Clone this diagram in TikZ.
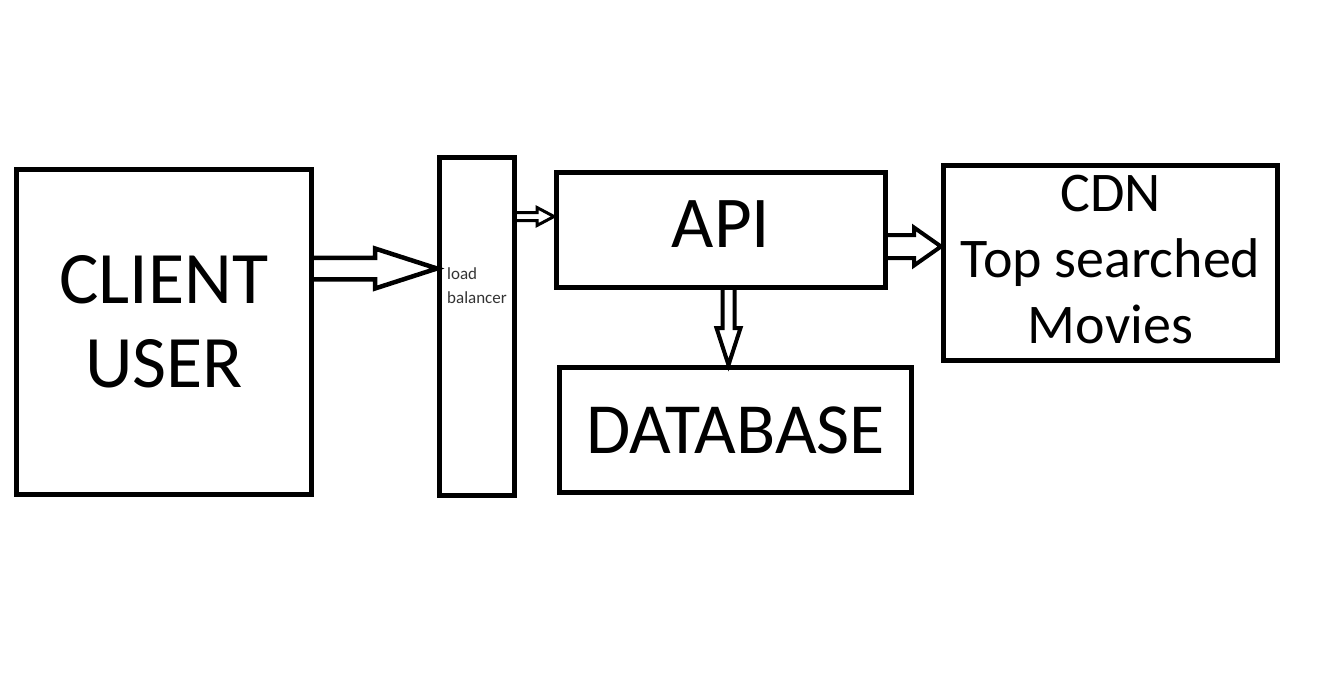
\documentclass[tikz,border=0pt]{standalone}
\usepackage{fontspec}
\setmainfont{Carlito}
\usetikzlibrary{calc}
% hollow block arrow: line width, from, to, shaft half width, head half width, head length
\newcommand{\hollowarrow}[6]{%
\coordinate (hb) at ($(#3)!#6!(#2)$);
\draw[line width=#1] ($(#2)!#4!90:(#3)$) -- ($(hb)!#4!90:(#3)$) -- ($(hb)!#5!90:(#3)$) -- (#3)
  -- ($(hb)!#5!-90:(#3)$) -- ($(hb)!#4!-90:(#3)$) -- ($(#2)!#4!-90:(#3)$);
}
\begin{document}
\begin{tikzpicture}[x=1pt, y=-1pt,
  box/.style={draw, line width=5pt, inner sep=0pt, align=center}]
\useasboundingbox (0,0) rectangle (1317,682);
\node[box, minimum width=295pt, minimum height=325pt, font=\fontsize{74}{84}\selectfont, text depth=22pt] (client) at (164,332){CLIENT\\USER};
\node[box, minimum width=75pt, minimum height=338pt, align=left, text=black!80, font=\fontsize{17}{24}\selectfont, text depth=82pt] (lb) at (477,326.5){load\\balancer};
\node[box, minimum width=329pt, minimum height=115pt, font=\fontsize{73}{80}\selectfont, text depth=11pt] (api) at (721,230){API};
\node[box, minimum width=352pt, minimum height=125pt, font=\fontsize{72}{80}\selectfont] (db) at (735.5,430){DATABASE};
\node[box, minimum width=334pt, minimum height=195pt, font=\fontsize{56}{66}\selectfont, text depth=7pt] (cdn) at (1110.5,263){CDN\\Top searched\\Movies};
% arrow ends
\coordinate (a1) at (client.east |- 0,268.5);
\coordinate (b1) at (lb.west |- 0,268.5);
\coordinate (a2) at (lb.east |- 0,216.5);
\coordinate (b2) at (api.west |- 0,216.5);
\coordinate (a3) at (api.east |- 0,246.5);
\coordinate (b3) at (cdn.west |- 0,246.5);
\coordinate (a4) at (api.south -| 728.5,0);
\coordinate (b4) at (db.north -| 728.5,0);
\hollowarrow{4.5pt}{a1}{b1}{10.75pt}{20pt}{62pt}
\hollowarrow{3pt}{a2}{b2}{4pt}{9pt}{17pt}
\hollowarrow{4pt}{a3}{b3}{11.5pt}{19pt}{27pt}
\hollowarrow{4pt}{a4}{b4}{6pt}{12pt}{37pt}
\end{tikzpicture}
\end{document}
